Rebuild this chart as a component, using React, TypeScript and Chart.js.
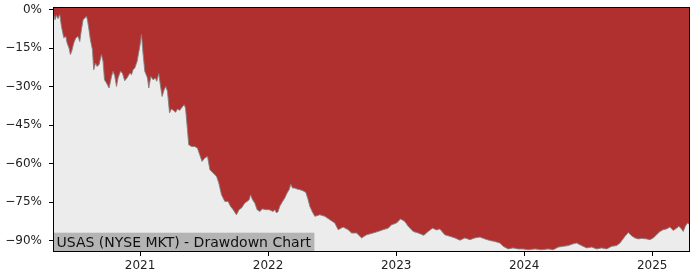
import React, { useEffect, useRef } from "react";
import { Chart, registerables } from "chart.js";

Chart.register(...registerables);

// Time in fractional years, drawdown in percent
const years: number[] = [
  2020.322, 2020.336, 2020.347, 2020.359, 2020.373, 2020.386, 2020.404, 2020.42, 2020.43, 2020.445,
  2020.456, 2020.466, 2020.482, 2020.498, 2020.516, 2020.529, 2020.542, 2020.555, 2020.568, 2020.581,
  2020.589, 2020.599, 2020.612, 2020.628, 2020.638, 2020.652, 2020.664, 2020.68, 2020.698, 2020.711,
  2020.722, 2020.738, 2020.758, 2020.777, 2020.789, 2020.802, 2020.816, 2020.828, 2020.847, 2020.862,
  2020.88, 2020.898, 2020.92, 2020.933, 2020.945, 2020.959, 2020.977, 2020.998, 2021.011, 2021.023,
  2021.037, 2021.058, 2021.068, 2021.084, 2021.102, 2021.12, 2021.13, 2021.146, 2021.162, 2021.172,
  2021.188, 2021.201, 2021.214, 2021.23, 2021.245, 2021.261, 2021.277, 2021.292, 2021.31, 2021.323,
  2021.344, 2021.355, 2021.37, 2021.38, 2021.402, 2021.427, 2021.448, 2021.466, 2021.484, 2021.505,
  2021.527, 2021.545, 2021.57, 2021.597, 2021.615, 2021.636, 2021.662, 2021.688, 2021.706, 2021.727,
  2021.753, 2021.773, 2021.792, 2021.818, 2021.836, 2021.852, 2021.863, 2021.878, 2021.896, 2021.914,
  2021.935, 2021.956, 2021.982, 2022.008, 2022.039, 2022.052, 2022.066, 2022.078, 2022.091, 2022.113,
  2022.13, 2022.148, 2022.164, 2022.177, 2022.191, 2022.209, 2022.227, 2022.248, 2022.271, 2022.295,
  2022.31, 2022.326, 2022.345, 2022.365, 2022.404, 2022.443, 2022.482, 2022.521, 2022.547, 2022.586,
  2022.625, 2022.652, 2022.691, 2022.73, 2022.769, 2022.82, 2022.859, 2022.898, 2022.938, 2022.964,
  2023.003, 2023.034, 2023.068, 2023.094, 2023.133, 2023.172, 2023.216, 2023.25, 2023.284, 2023.316,
  2023.341, 2023.38, 2023.42, 2023.459, 2023.498, 2023.537, 2023.576, 2023.615, 2023.654, 2023.693,
  2023.732, 2023.771, 2023.81, 2023.836, 2023.875, 2023.914, 2023.953, 2023.992, 2024.031, 2024.084,
  2024.136, 2024.188, 2024.227, 2024.266, 2024.305, 2024.344, 2024.383, 2024.409, 2024.448, 2024.488,
  2024.527, 2024.566, 2024.605, 2024.644, 2024.683, 2024.722, 2024.748, 2024.787, 2024.813, 2024.839,
  2024.865, 2024.891, 2024.917, 2024.956, 2024.982, 2025.008, 2025.034, 2025.06, 2025.086, 2025.112,
  2025.138, 2025.164, 2025.19, 2025.208, 2025.229, 2025.242, 2025.26, 2025.276, 2025.288,
];

const drawdown: number[] = [
  -1.2, -3.9, -2.2, -3.5, -1.9, -6.5, -10.9, -10.4, -13.0, -14.9,
  -17.5, -16.2, -13.0, -11.0, -10.4, -12.4, -7.8, -3.9, -3.2, -2.6,
  -3.9, -7.1, -11.7, -15.6, -23.4, -20.8, -22.1, -21.4, -17.5, -20.1,
  -27.3, -28.6, -30.5, -26.0, -24.0, -25.7, -29.9, -26.6, -24.0, -24.7,
  -27.7, -26.6, -24.7, -25.3, -23.4, -22.7, -20.1, -14.3, -9.7, -16.9,
  -24.0, -26.6, -30.5, -26.0, -27.3, -26.6, -27.9, -24.9, -30.5, -33.8,
  -31.2, -29.9, -31.8, -40.2, -38.7, -39.2, -40.0, -38.7, -39.2, -38.3,
  -37.0, -38.3, -46.8, -52.6, -53.3, -53.3, -53.9, -56.5, -59.1, -57.8,
  -57.2, -62.3, -63.6, -64.9, -67.5, -72.1, -74.7, -74.7, -76.6, -77.9,
  -79.9, -77.9, -77.3, -75.3, -74.7, -74.0, -72.1, -74.0, -75.3, -77.9,
  -78.6, -77.6, -77.9, -77.9, -78.6, -77.9, -79.2, -78.6, -76.6, -74.7,
  -73.4, -71.4, -70.1, -68.0, -69.5, -69.5, -69.9, -70.1, -70.5, -71.2,
  -73.6, -76.6, -78.7, -80.5, -79.9, -80.5, -81.8, -83.1, -85.7, -84.7,
  -85.7, -87.0, -87.0, -88.9, -87.7, -87.0, -86.4, -85.7, -85.1, -83.8,
  -83.1, -81.5, -82.5, -84.4, -86.4, -87.0, -87.9, -86.4, -85.1, -85.8,
  -85.4, -87.7, -88.3, -88.9, -89.8, -88.9, -89.6, -88.9, -88.6, -89.3,
  -89.9, -90.3, -90.9, -92.2, -93.2, -92.8, -93.2, -93.2, -93.5, -93.2,
  -93.5, -93.2, -93.5, -92.5, -92.2, -91.9, -91.2, -90.9, -91.9, -92.8,
  -92.5, -93.2, -92.8, -93.2, -92.2, -91.9, -90.9, -88.3, -86.8, -88.1,
  -88.9, -89.3, -89.1, -89.3, -89.6, -88.9, -87.7, -86.4, -85.7, -85.4,
  -84.7, -86.0, -85.1, -84.4, -85.4, -86.4, -84.2, -83.1, -83.6,
];

const yTicks: number[] = [0, -15, -30, -45, -60, -75, -90];
const xTicks: number[] = [2021, 2022, 2023, 2024, 2025];
const titleText = "USAS (NYSE MKT) - Drawdown Chart";

const FONT = "'DejaVu Sans', sans-serif";

const decor = {
  id: "decor",
  beforeDraw(chart: any) {
    const { ctx, chartArea: a } = chart;
    ctx.save();
    ctx.fillStyle = "#ececec";
    ctx.fillRect(a.left, a.top, a.right - a.left, a.bottom - a.top);
    ctx.restore();
  },
  afterDatasetsDraw(chart: any) {
    const { ctx, chartArea: a } = chart;
    ctx.save();
    ctx.font = `14px ${FONT}`;
    const w = ctx.measureText(titleText).width;
    ctx.fillStyle = "#b4b4b4";
    ctx.fillRect(a.left, a.bottom - 19.3, w + 7, 19.3);
    ctx.fillStyle = "#111";
    ctx.textBaseline = "alphabetic";
    ctx.textAlign = "left";
    ctx.fillText(titleText, a.left + 3.5, a.bottom - 4.6);
    ctx.strokeStyle = "#000";
    ctx.lineWidth = 1;
    ctx.strokeRect(a.left + 0.5, a.top + 0.5, a.right - a.left - 1, a.bottom - a.top - 1);
    ctx.restore();
  },
};

export default function App() {
  const ref = useRef<HTMLCanvasElement | null>(null);
  useEffect(() => {
    if (!ref.current) return;
    const data = years.map((x, i) => ({ x, y: drawdown[i] }));
    const chart = new Chart(ref.current, {
      type: "line",
      data: {
        datasets: [
          {
            data,
            fill: "end",
            backgroundColor: "#b03030",
            borderColor: "rgba(130,130,130,0.9)",
            borderWidth: 1,
            pointRadius: 0,
            tension: 0,
          },
        ],
      },
      options: {
        responsive: false,
        animation: false,
        devicePixelRatio: 1,
        layout: { padding: { left: 0, right: 10, top: 7, bottom: 0 } },
        plugins: { legend: { display: false }, tooltip: { enabled: false }, title: { display: false } },
        scales: {
          x: {
            type: "linear",
            min: 2020.32,
            max: 2025.295,
            afterBuildTicks: (s: any) => {
              s.ticks = xTicks.map((v) => ({ value: v }));
            },
            afterFit: (s: any) => {
              s.height = 28;
              s.paddingLeft = 0;
              s.paddingRight = 0;
            },
            ticks: {
              autoSkip: false,
              maxRotation: 0,
              padding: 3,
              color: "#222",
              font: { family: FONT, size: 12 },
              callback: (v: any) => String(v),
            },
            grid: { display: true, drawOnChartArea: false, drawTicks: true, tickLength: 4, color: "#000" },
            border: { display: false },
          },
          y: {
            type: "linear",
            min: -94.4,
            max: 1.05,
            afterBuildTicks: (s: any) => {
              s.ticks = yTicks.map((v) => ({ value: v }));
            },
            afterFit: (s: any) => {
              s.width = 53;
              s.paddingTop = 0;
              s.paddingBottom = 0;
            },
            ticks: {
              autoSkip: false,
              padding: 7,
              color: "#222",
              font: { family: FONT, size: 12 },
              callback: (v: any) => (v === 0 ? "0%" : "\u2212" + Math.abs(v) + "%"),
            },
            grid: { display: true, drawOnChartArea: false, drawTicks: true, tickLength: 4, color: "#000" },
            border: { display: false },
          },
        },
      },
      plugins: [decor],
    });
    return () => chart.destroy();
  }, []);
  return (
    <div style={{ position: "absolute", left: 0, top: 0, width: 700, height: 280 }}>
      <canvas ref={ref} width={700} height={280} style={{ width: 700, height: 280 }} />
    </div>
  );
}
